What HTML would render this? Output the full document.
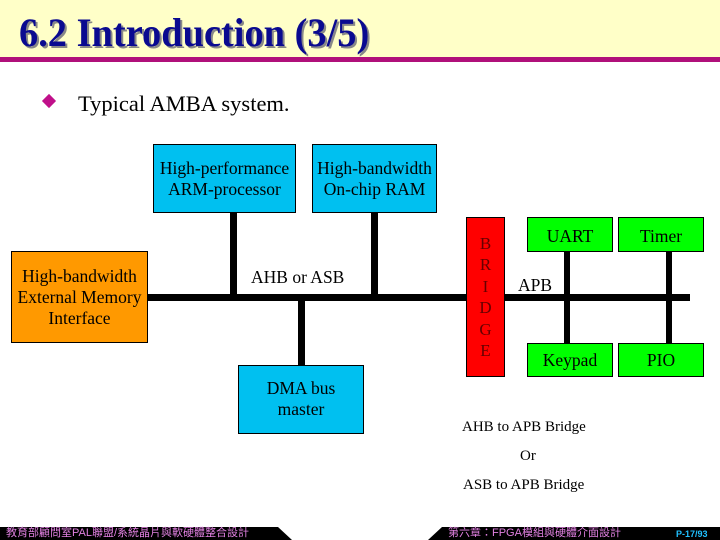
<!DOCTYPE html>
<html><head><meta charset="utf-8"><style>
body{margin:0;width:720px;height:540px;position:relative;background:#fff;font-family:"Liberation Serif",serif;overflow:hidden}
.a{position:absolute}
.box{position:absolute;border:1px solid #000;box-sizing:border-box;display:flex;align-items:center;justify-content:center;text-align:center;font-size:17.5px;line-height:21px;color:#000;white-space:nowrap}
.blue{background:#00c0f0}.grn{background:#00ff00}
.ln{position:absolute;background:#000}
</style></head><body>
<div class="a" style="left:0;top:0;width:720px;height:57px;background:#ffffc8"></div>
<div class="a" style="left:0;top:57px;width:720px;height:5px;background:#b0107a"></div>
<div class="a" style="left:21px;top:12px;font-size:40px;font-weight:bold;color:#888;line-height:46px;transform:scaleX(0.96);transform-origin:left">6.2 Introduction (3/5)</div>
<div class="a" style="left:19px;top:10px;font-size:40px;font-weight:bold;color:#0a0a90;line-height:46px;transform:scaleX(0.96);transform-origin:left">6.2 Introduction (3/5)</div>
<div class="a" style="left:44px;top:96px;width:10px;height:10px;background:#c0108a;transform:rotate(45deg)"></div>
<div class="a" style="left:78px;top:90px;font-size:22.5px;line-height:28px">Typical AMBA system.</div>

<div class="ln" style="left:147px;top:294px;width:320px;height:7px"></div>
<div class="ln" style="left:230px;top:212px;width:7px;height:85px"></div>
<div class="ln" style="left:371px;top:212px;width:7px;height:85px"></div>
<div class="ln" style="left:298px;top:297px;width:7px;height:68px"></div>
<div class="ln" style="left:504px;top:294px;width:186px;height:7px"></div>
<div class="ln" style="left:564px;top:251px;width:6px;height:92px"></div>
<div class="ln" style="left:666px;top:251px;width:6px;height:92px"></div>

<div class="box blue" style="left:153px;top:144px;width:143px;height:69px;align-items:flex-start;padding-top:13px">High-performance<br>ARM-processor</div>
<div class="box blue" style="left:312px;top:144px;width:125px;height:69px;align-items:flex-start;padding-top:13px">High-bandwidth<br>On-chip RAM</div>
<div class="box" style="left:11px;top:251px;width:137px;height:92px;background:#ff9900">High-bandwidth<br>External Memory<br>Interface</div>
<div class="box blue" style="left:238px;top:365px;width:126px;height:69px;align-items:flex-start;padding-top:12px">DMA bus<br>master</div>
<div class="a" style="left:251px;top:267px;font-size:17.5px">AHB or ASB</div>

<div class="box" style="left:466px;top:217px;width:39px;height:160px;background:#ff0000;color:#600;font-size:17px;line-height:21.5px">B<br>R<br>I<br>D<br>G<br>E</div>
<div class="box grn" style="left:527px;top:217px;width:86px;height:35px;align-items:flex-start;padding-top:8px">UART</div>
<div class="box grn" style="left:618px;top:217px;width:86px;height:35px;align-items:flex-start;padding-top:8px">Timer</div>
<div class="box grn" style="left:527px;top:343px;width:86px;height:34px">Keypad</div>
<div class="box grn" style="left:618px;top:343px;width:86px;height:34px">PIO</div>
<div class="a" style="left:518px;top:275px;font-size:17.5px">APB</div>

<div class="a" style="left:462px;top:419px;font-size:15px">AHB to APB Bridge</div>
<div class="a" style="left:520px;top:448px;font-size:15px">Or</div>
<div class="a" style="left:463px;top:477px;font-size:15px">ASB to APB Bridge</div>

<svg class="a" style="left:0;top:525px" width="720" height="15">
<polygon points="0,2 278,2 292,15 0,15" fill="#000"/>
<polygon points="442,2 720,2 720,15 428,15" fill="#000"/>
</svg>
<div class="a" style="left:6px;top:526px;font-size:11px;color:#e080e0;font-family:'Liberation Sans','Noto Sans CJK TC',sans-serif;line-height:14px">教育部顧問室PAL聯盟/系統晶片與軟硬體整合設計</div>
<div class="a" style="left:448px;top:526px;font-size:11px;color:#e080e0;font-family:'Liberation Sans','Noto Sans CJK TC',sans-serif;line-height:14px">第六章：FPGA模組與硬體介面設計</div>
<div class="a" style="left:676px;top:528px;font-size:9px;color:#20c0ff;font-family:'Liberation Sans',sans-serif;font-weight:bold;line-height:12px">P-17/93</div>
</body></html>
